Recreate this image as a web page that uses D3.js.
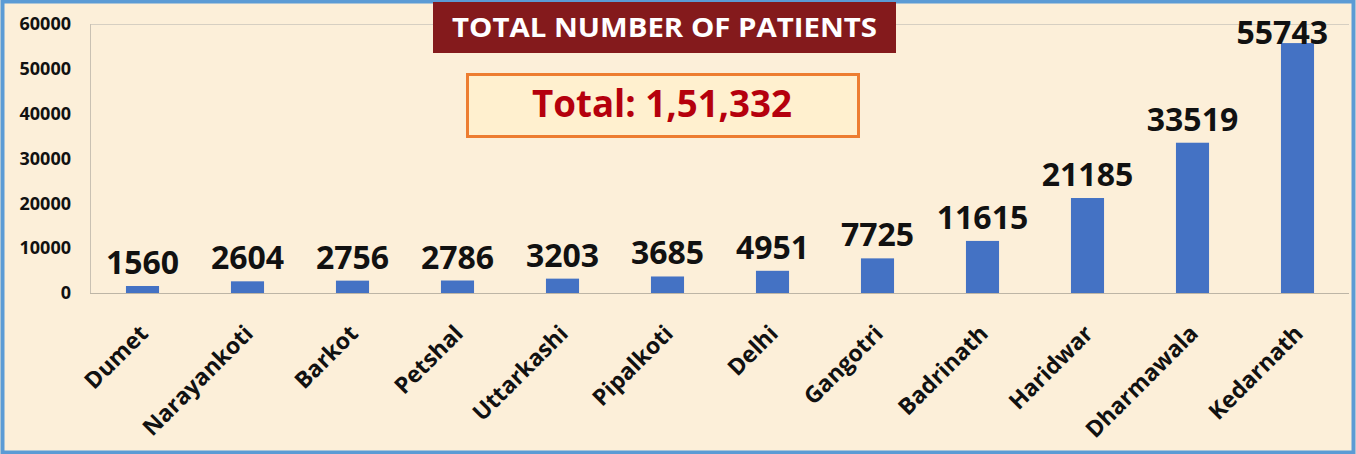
<!DOCTYPE html>
<html>
<head>
<meta charset="utf-8">
<script src="https://cdn.jsdelivr.net/npm/d3@7"></script>
<style>
	html, body { margin: 0; padding: 0; background: #fcefd9; overflow: hidden; }
	svg { display: block; }
</style>
</head>
<body>
<script>
	const places = ['Dumet', 'Narayankoti', 'Barkot', 'Petshal', 'Uttarkashi', 'Pipalkoti', 'Delhi', 'Gangotri', 'Badrinath', 'Haridwar', 'Dharmawala', 'Kedarnath'];
	const patients = [1560, 2604, 2756, 2786, 3203, 3685, 4951, 7725, 11615, 21185, 33519, 55743];
	const yTicks = [0, 10000, 20000, 30000, 40000, 50000, 60000];
	const titleText = 'TOTAL NUMBER OF PATIENTS';
	const totalText = 'Total: 1,51,332';

	var svgSize = {'width' : 1356, 'height' : 454};
	var plot = {'left' : 90, 'right' : 1350, 'top' : 24, 'bottom' : 293};

	var svg = d3.select('body').append('svg')
		.attr('width', svgSize.width)
		.attr('height', svgSize.height);

	// background and blue frame
	svg.append('rect')
		.attr('x', 2.5).attr('y', 1.5)
		.attr('width', svgSize.width - 5).attr('height', svgSize.height - 3)
		.attr('fill', '#fcefd9')
		.attr('stroke', '#5b9bd5')
		.attr('stroke-width', 4);

	var xScale = d3.scaleBand().domain(places).range([plot.left, plot.right]).padding(0);
	var yScale = d3.scaleLinear().domain([0, 60000]).range([plot.bottom, plot.top]);
	var barWidth = xScale.bandwidth() * 0.315;

	// plot area lines
	svg.append('line')
		.attr('x1', plot.left).attr('x2', plot.right - 1)
		.attr('y1', plot.top + 0.5).attr('y2', plot.top + 0.5)
		.attr('stroke', '#d6cfc2');
	svg.append('line')
		.attr('x1', plot.left + 0.5).attr('x2', plot.left + 0.5)
		.attr('y1', plot.top).attr('y2', plot.bottom)
		.attr('stroke', '#c9c1b3');

	svg.append('g')
		.attr('class', 'bars')
		.selectAll('rect')
		.data(patients)
		.enter()
		.append('rect')
		.attr('x', (d, i) => xScale(places[i]) + (xScale.bandwidth() - barWidth) / 2)
		.attr('y', (d) => yScale(d))
		.attr('width', barWidth)
		.attr('height', (d) => yScale(0) - yScale(d))
		.attr('fill', '#4472c4');

	// x axis line
	svg.append('line')
		.attr('x1', plot.left).attr('x2', plot.right - 1)
		.attr('y1', plot.bottom + 0.5).attr('y2', plot.bottom + 0.5)
		.attr('stroke', '#bdb5a6');

	// y axis, labels only
	var yAxis = svg.append('g')
		.attr('id', 'y-axis')
		.attr('transform', `translate(${plot.left - 19}, 0)`)
		.call(d3.axisLeft(yScale).tickValues(yTicks).tickSize(0).tickPadding(0).tickFormat(d3.format('d')));
	yAxis.select('.domain').remove();
	yAxis.selectAll('text')
		.style('font-family', '"Open Sans", sans-serif')
		.style('font-weight', 'bold')
		.style('font-size', '18px')
		.attr('fill', '#111');

	// x axis labels, rotated
	svg.append('g')
		.attr('id', 'x-axis')
		.selectAll('text')
		.data(places)
		.enter()
		.append('text')
		.attr('transform', (d) => `translate(${xScale(d) + xScale.bandwidth() / 2 + 7}, 335) rotate(-45)`)
		.style('text-anchor', 'end')
		.style('font-family', '"Open Sans", sans-serif')
		.style('font-weight', 'bold')
		.style('font-size', '23px')
		.attr('fill', '#111')
		.text((d) => d);

	// value labels
	var valueLabels = svg.append('g')
		.attr('class', 'values')
		.selectAll('text')
		.data(patients)
		.enter()
		.append('text')
		.attr('x', (d, i) => xScale(places[i]) + xScale.bandwidth() / 2)
		.attr('y', (d) => Math.max(yScale(d) - 12, 44))
		.style('text-anchor', 'middle')
		.style('font-family', '"Open Sans", sans-serif')
		.style('font-weight', 'bold')
		.style('font-size', '32px')
		.attr('fill', '#111')
		.text((d) => d);

	// keep labels inside the right edge
	valueLabels.each(function() {
		var t = d3.select(this);
		var w = this.getComputedTextLength();
		var x = +t.attr('x');
		if (x + w / 2 > plot.right - 22) t.attr('x', plot.right - 22 - w / 2);
	});

	// title banner
	svg.append('rect')
		.attr('x', 433).attr('y', 2)
		.attr('width', 463).attr('height', 51)
		.attr('fill', '#841a1c');
	svg.append('text')
		.attr('x', 664.5).attr('y', 37)
		.style('text-anchor', 'middle')
		.style('font-family', '"Open Sans", sans-serif')
		.style('font-weight', 'bold')
		.style('font-size', '26px')
		.attr('textLength', 425)
		.attr('lengthAdjust', 'spacingAndGlyphs')
		.attr('fill', '#ffffff')
		.text(titleText);

	// total box
	svg.append('rect')
		.attr('x', 467.5).attr('y', 74.5)
		.attr('width', 391).attr('height', 62)
		.attr('fill', '#fff0cf')
		.attr('stroke', '#ed7d31')
		.attr('stroke-width', 3);
	svg.append('text')
		.attr('x', 662).attr('y', 117)
		.style('text-anchor', 'middle')
		.style('font-family', '"Open Sans", sans-serif')
		.style('font-weight', 'bold')
		.style('font-size', '38px')
		.attr('textLength', 260)
		.attr('lengthAdjust', 'spacingAndGlyphs')
		.attr('fill', '#b5000d')
		.text(totalText);
</script>
</body>
</html>
